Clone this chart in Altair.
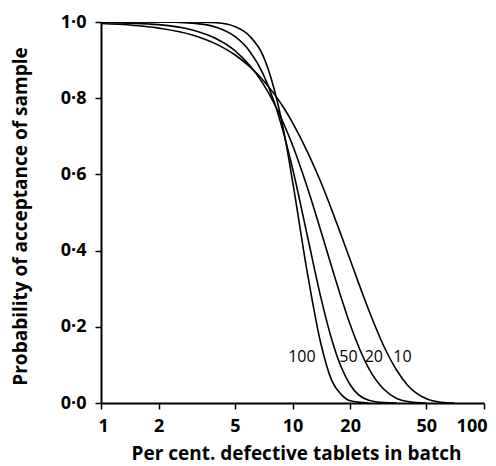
import altair as alt
import pandas as pd

# Per cent defective tablets in batch (x) and probability of acceptance (y)
pct_10 = [1, 2, 3, 4, 5, 6, 7, 8, 9, 10, 12, 14, 16, 18, 20, 25, 30, 35, 40, 50, 60, 70]
acc_10 = [0.996, 0.984, 0.966, 0.942, 0.914, 0.882, 0.848, 0.812, 0.775, 0.736, 0.658,
          0.582, 0.508, 0.439, 0.376, 0.244, 0.149, 0.086, 0.046, 0.011, 0.002, 0.0]

pct_20 = [1, 2, 3, 4, 5, 6, 7, 8, 9, 10, 12, 14, 16, 18, 20, 25, 30, 35, 40, 50]
acc_20 = [0.999, 0.993, 0.979, 0.956, 0.925, 0.885, 0.839, 0.788, 0.733, 0.677, 0.563,
          0.455, 0.358, 0.275, 0.206, 0.091, 0.036, 0.012, 0.004, 0.0]

pct_50 = [1, 2, 3, 4, 5, 6, 7, 8, 9, 10, 12, 14, 16, 18, 20, 25, 30, 35]
acc_50 = [1.0, 1.0, 0.997, 0.986, 0.962, 0.922, 0.865, 0.792, 0.707, 0.616, 0.435,
          0.281, 0.168, 0.093, 0.048, 0.007, 0.001, 0.0]

pct_100 = [1, 2, 3, 4, 5, 6, 7, 8, 9, 10, 12, 14, 16, 18, 20, 25]
acc_100 = [1.0, 1.0, 1.0, 0.998, 0.988, 0.962, 0.913, 0.826, 0.714, 0.583, 0.337,
           0.16, 0.06, 0.022, 0.006, 0.0]

curve_labels = ["100", "50", "20", "10"]
label_x = [11.2, 19.6, 26.6, 37.5]
label_y = [0.12, 0.12, 0.12, 0.12]

x_ticks = [1, 2, 5, 10, 20, 50, 100]
y_ticks = [0.0, 0.2, 0.4, 0.6, 0.8, 1.0]

rows = []
for name, xs, ys in [("10", pct_10, acc_10), ("20", pct_20, acc_20),
                     ("50", pct_50, acc_50), ("100", pct_100, acc_100)]:
    for xv, yv in zip(xs, ys):
        rows.append({"n": name, "pct": xv, "p": yv})
df = pd.DataFrame(rows)
lab = pd.DataFrame({"label": curve_labels, "pct": label_x, "p": label_y})

FONT = "Open Sans"

x_scale = alt.Scale(type="log", domain=[1, 100], nice=False)
y_scale = alt.Scale(domain=[0, 1], nice=False)

x_axis = alt.Axis(
    values=x_ticks, format="d", grid=False,
    title="Per cent. defective tablets in batch",
    titleX=195, titleY=56, titleAlign="center", titleBaseline="alphabetic",
    titleFontSize=19, titleFont=FONT, titleFontWeight="bold", titleColor="black",
    labelFont=FONT, labelFontSize=18, labelFontWeight="bold", labelColor="black",
    labelPadding=8, tickSize=6, tickWidth=1.5, tickColor="black",
    domainColor="black", domainWidth=2, labelFlush=True, labelFlushOffset=3,
    labelOverlap=False,
)
y_axis = alt.Axis(
    values=y_ticks, grid=False,
    labelExpr="replace(format(datum.value, '.1f'), '.', '·')",
    title="Probability of acceptance of sample",
    titleX=-81, titleY=194, titleAngle=-90, titleAlign="center", titleBaseline="middle",
    titleFontSize=19, titleFont=FONT, titleFontWeight="bold", titleColor="black",
    labelFont=FONT, labelFontSize=18, labelFontWeight="bold", labelColor="black",
    labelPadding=9, tickSize=6, tickWidth=1.5, tickColor="black",
    domainColor="black", domainWidth=2, labelFlush=False, labelOverlap=False,
)

lines = alt.Chart(df).mark_line(color="black", strokeWidth=1.6, interpolate="monotone", clip=True).encode(
    x=alt.X("pct:Q", scale=x_scale, axis=x_axis),
    y=alt.Y("p:Q", scale=y_scale, axis=y_axis),
    detail="n:N",
)

texts = alt.Chart(lab).mark_text(font=FONT, fontSize=16, color="black", align="center", baseline="middle").encode(
    x=alt.X("pct:Q", scale=x_scale),
    y=alt.Y("p:Q", scale=y_scale),
    text="label:N",
)

chart = (lines + texts).properties(
    width=383, height=381,
    autosize=alt.AutoSizeParams(type="none"),
    padding={"left": 93, "top": 14, "right": 4, "bottom": 62},
    background="white",
).configure_view(stroke=None)

chart.save("out.html", embed_options={"renderer": "svg", "actions": False})
